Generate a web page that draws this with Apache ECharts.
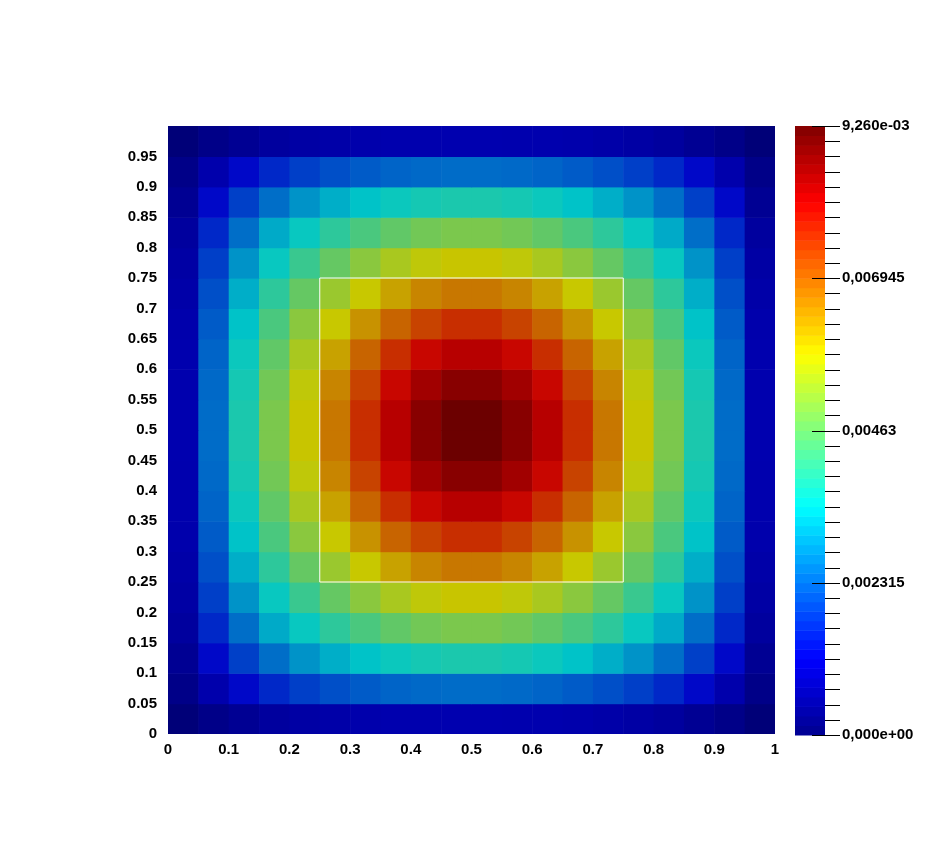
<!DOCTYPE html>
<html>
<head>
<meta charset="utf-8">
<script src="https://cdn.jsdelivr.net/npm/echarts@6/dist/echarts.min.js"></script>
<style>
  html, body { margin: 0; background: #fff; }
  #chart { width: 944px; height: 860px; }
</style>
</head>
<body>
<div id="chart"></div>
<script>
// cell centres of the sampled field
const xCenters = [0.025, 0.075, 0.125, 0.175, 0.225, 0.275, 0.325, 0.375, 0.425, 0.475,
                  0.525, 0.575, 0.625, 0.675, 0.725, 0.775, 0.825, 0.875, 0.925, 0.975];
const yCenters = [0.025, 0.075, 0.125, 0.175, 0.225, 0.275, 0.325, 0.375, 0.425, 0.475,
                  0.525, 0.575, 0.625, 0.675, 0.725, 0.775, 0.825, 0.875, 0.925, 0.975];

// field value (x 1e-3), one row per y centre, bottom to top
const row01 = [0.11, 0.31, 0.46, 0.61, 0.69, 0.74, 0.79, 0.81, 0.82, 0.83, 0.83, 0.82, 0.81, 0.79, 0.74, 0.69, 0.61, 0.46, 0.31, 0.11];
const row02 = [0.31, 0.79, 1.25, 1.62, 1.89, 2.07, 2.21, 2.32, 2.37, 2.41, 2.41, 2.37, 2.32, 2.21, 2.07, 1.89, 1.62, 1.25, 0.79, 0.31];
const row03 = [0.46, 1.25, 1.90, 2.43, 2.86, 3.17, 3.41, 3.60, 3.72, 3.79, 3.79, 3.72, 3.60, 3.41, 3.17, 2.86, 2.43, 1.90, 1.25, 0.46];
const row04 = [0.61, 1.62, 2.43, 3.12, 3.57, 3.99, 4.33, 4.60, 4.79, 4.90, 4.90, 4.79, 4.60, 4.33, 3.99, 3.57, 3.12, 2.43, 1.62, 0.61];
const row05 = [0.69, 1.89, 2.86, 3.57, 4.13, 4.64, 5.07, 5.43, 5.68, 5.82, 5.82, 5.68, 5.43, 5.07, 4.64, 4.13, 3.57, 2.86, 1.89, 0.69];
const row06 = [0.74, 2.07, 3.17, 3.99, 4.64, 5.26, 5.79, 6.23, 6.56, 6.73, 6.73, 6.56, 6.23, 5.79, 5.26, 4.64, 3.99, 3.17, 2.07, 0.74];
const row07 = [0.79, 2.21, 3.41, 4.33, 5.07, 5.79, 6.41, 6.95, 7.33, 7.57, 7.57, 7.33, 6.95, 6.41, 5.79, 5.07, 4.33, 3.41, 2.21, 0.79];
const row08 = [0.81, 2.32, 3.60, 4.60, 5.43, 6.23, 6.95, 7.57, 8.03, 8.30, 8.30, 8.03, 7.57, 6.95, 6.23, 5.43, 4.60, 3.60, 2.32, 0.81];
const row09 = [0.82, 2.37, 3.72, 4.79, 5.68, 6.56, 7.33, 8.03, 8.55, 8.84, 8.84, 8.55, 8.03, 7.33, 6.56, 5.68, 4.79, 3.72, 2.37, 0.82];
const row10 = [0.83, 2.41, 3.79, 4.90, 5.82, 6.73, 7.57, 8.30, 8.84, 9.17, 9.17, 8.84, 8.30, 7.57, 6.73, 5.82, 4.90, 3.79, 2.41, 0.83];
const row11 = [0.83, 2.41, 3.79, 4.90, 5.82, 6.73, 7.57, 8.30, 8.84, 9.17, 9.17, 8.84, 8.30, 7.57, 6.73, 5.82, 4.90, 3.79, 2.41, 0.83];
const row12 = [0.82, 2.37, 3.72, 4.79, 5.68, 6.56, 7.33, 8.03, 8.55, 8.84, 8.84, 8.55, 8.03, 7.33, 6.56, 5.68, 4.79, 3.72, 2.37, 0.82];
const row13 = [0.81, 2.32, 3.60, 4.60, 5.43, 6.23, 6.95, 7.57, 8.03, 8.30, 8.30, 8.03, 7.57, 6.95, 6.23, 5.43, 4.60, 3.60, 2.32, 0.81];
const row14 = [0.79, 2.21, 3.41, 4.33, 5.07, 5.79, 6.41, 6.95, 7.33, 7.57, 7.57, 7.33, 6.95, 6.41, 5.79, 5.07, 4.33, 3.41, 2.21, 0.79];
const row15 = [0.74, 2.07, 3.17, 3.99, 4.64, 5.26, 5.79, 6.23, 6.56, 6.73, 6.73, 6.56, 6.23, 5.79, 5.26, 4.64, 3.99, 3.17, 2.07, 0.74];
const row16 = [0.69, 1.89, 2.86, 3.57, 4.13, 4.64, 5.07, 5.43, 5.68, 5.82, 5.82, 5.68, 5.43, 5.07, 4.64, 4.13, 3.57, 2.86, 1.89, 0.69];
const row17 = [0.61, 1.62, 2.43, 3.12, 3.57, 3.99, 4.33, 4.60, 4.79, 4.90, 4.90, 4.79, 4.60, 4.33, 3.99, 3.57, 3.12, 2.43, 1.62, 0.61];
const row18 = [0.46, 1.25, 1.90, 2.43, 2.86, 3.17, 3.41, 3.60, 3.72, 3.79, 3.79, 3.72, 3.60, 3.41, 3.17, 2.86, 2.43, 1.90, 1.25, 0.46];
const row19 = [0.31, 0.79, 1.25, 1.62, 1.89, 2.07, 2.21, 2.32, 2.37, 2.41, 2.41, 2.37, 2.32, 2.21, 2.07, 1.89, 1.62, 1.25, 0.79, 0.31];
const row20 = [0.11, 0.31, 0.46, 0.61, 0.69, 0.74, 0.79, 0.81, 0.82, 0.83, 0.83, 0.82, 0.81, 0.79, 0.74, 0.69, 0.61, 0.46, 0.31, 0.11];

// white outline of the inner square
const boxCorners = [[0.25, 0.25], [0.75, 0.25], [0.75, 0.75], [0.25, 0.75], [0.25, 0.25]];

const xTickLabels = ['0', '0.1', '0.2', '0.3', '0.4', '0.5', '0.6', '0.7', '0.8', '0.9', '1'];
const yTickLabels = ['0', '0.05', '0.1', '0.15', '0.2', '0.25', '0.3', '0.35', '0.4', '0.45', '0.5',
                     '0.55', '0.6', '0.65', '0.7', '0.75', '0.8', '0.85', '0.9', '0.95'];
const barLabels = ['0,000e+00', '0,002315', '0,00463', '0,006945', '9,260e-03'];
const uMax = 9.26;

const rows = [row01, row02, row03, row04, row05, row06, row07, row08, row09, row10,
              row11, row12, row13, row14, row15, row16, row17, row18, row19, row20];
const cells = [];
rows.forEach((r, j) => r.forEach((v, i) => cells.push([xCenters[i], yCenters[j], v])));
const half = (xCenters[1] - xCenters[0]) / 2;

// colour bar: 64 bands over 40 tick steps, grid x runs 0..45 (bar 0..30, ticks 30..45)
const bands = [];
for (let k = 0; k < 64; k++) bands.push([k * 40 / 64, (k + 1) * 40 / 64, (k + 0.5) * 40 / 64]);
const barTicks = [];
for (let k = 0; k <= 40; k++) barTicks.push([k, k % 10 === 0 ? 1 : 0]);

const jetDark = ['#000070', '#0000c8', '#0064c8', '#00c8c8', '#64c864', '#c8c800', '#c86400', '#c80000', '#640000'];
const jet = ['#00008f', '#0000ff', '#0080ff', '#00ffff', '#80ff80', '#ffff00', '#ff8000', '#ff0000', '#800000'];

const font = { fontFamily: 'Liberation Sans', fontWeight: 'bold', fontSize: 15, color: '#000' };

const chart = echarts.init(document.getElementById('chart'));
chart.setOption({
  backgroundColor: '#fff',
  animation: false,
  grid: [
    { left: 168, top: 126, width: 607, height: 608 },
    { left: 795, top: 126, width: 45, height: 609 }
  ],
  xAxis: [
    {
      type: 'value', gridIndex: 0, min: 0, max: 1, interval: 0.1,
      axisLine: { show: false }, axisTick: { show: false }, splitLine: { show: false },
      axisLabel: Object.assign({ margin: 8, formatter: (v, i) => xTickLabels[i] }, font)
    },
    { type: 'value', gridIndex: 1, min: 0, max: 45, show: false }
  ],
  yAxis: [
    {
      type: 'value', gridIndex: 0, min: 0, max: 1, interval: 0.05,
      axisLine: { show: false }, axisTick: { show: false }, splitLine: { show: false },
      axisLabel: Object.assign({ margin: 11, formatter: (v, i) => yTickLabels[i] || '' }, font)
    },
    {
      type: 'value', gridIndex: 1, min: 0, max: 40, interval: 10, position: 'right',
      axisLine: { show: false }, axisTick: { show: false }, splitLine: { show: false },
      axisLabel: Object.assign({ margin: 2, formatter: (v, i) => barLabels[i] }, font)
    }
  ],
  visualMap: [
    { type: 'continuous', show: false, seriesIndex: 0, dimension: 2, min: 0, max: uMax, inRange: { color: jetDark } },
    { type: 'continuous', show: false, seriesIndex: 2, dimension: 2, min: 0, max: 40, inRange: { color: jet } }
  ],
  series: [
    {
      type: 'custom', xAxisIndex: 0, yAxisIndex: 0, data: cells, silent: true,
      encode: { x: 0, y: 1 },
      renderItem: (params, api) => {
        const x = api.value(0), y = api.value(1);
        const p0 = api.coord([x - half, y + half]);
        const p1 = api.coord([x + half, y - half]);
        return {
          type: 'rect',
          shape: { x: p0[0], y: p0[1], width: p1[0] - p0[0] + 0.6, height: p1[1] - p0[1] + 0.6 },
          style: { fill: api.visual('color') }
        };
      },
      clip: true
    },
    {
      type: 'line', xAxisIndex: 0, yAxisIndex: 0, data: boxCorners, symbol: 'none', silent: true,
      lineStyle: { color: '#fff', width: 1 }
    },
    {
      type: 'custom', xAxisIndex: 1, yAxisIndex: 1, data: bands, silent: true,
      encode: { y: [0, 1] },
      renderItem: (params, api) => {
        const p0 = api.coord([0, api.value(1)]);
        const p1 = api.coord([30, api.value(0)]);
        return {
          type: 'rect',
          shape: { x: p0[0], y: p0[1], width: p1[0] - p0[0], height: p1[1] - p0[1] + 0.5 },
          style: { fill: api.visual('color') }
        };
      }
    },
    {
      type: 'custom', xAxisIndex: 1, yAxisIndex: 1, data: barTicks, silent: true, z: 5, clip: false,
      encode: { y: 0 },
      renderItem: (params, api) => {
        const start = api.value(1) ? 17 : 30;
        const a = api.coord([start, api.value(0)]);
        const b = api.coord([45, api.value(0)]);
        const y = Math.round(a[1]) + 0.5;
        return {
          type: 'line',
          shape: { x1: a[0], y1: y, x2: b[0], y2: y },
          style: { stroke: '#000', lineWidth: 1 }
        };
      }
    }
  ]
});
</script>
</body>
</html>
